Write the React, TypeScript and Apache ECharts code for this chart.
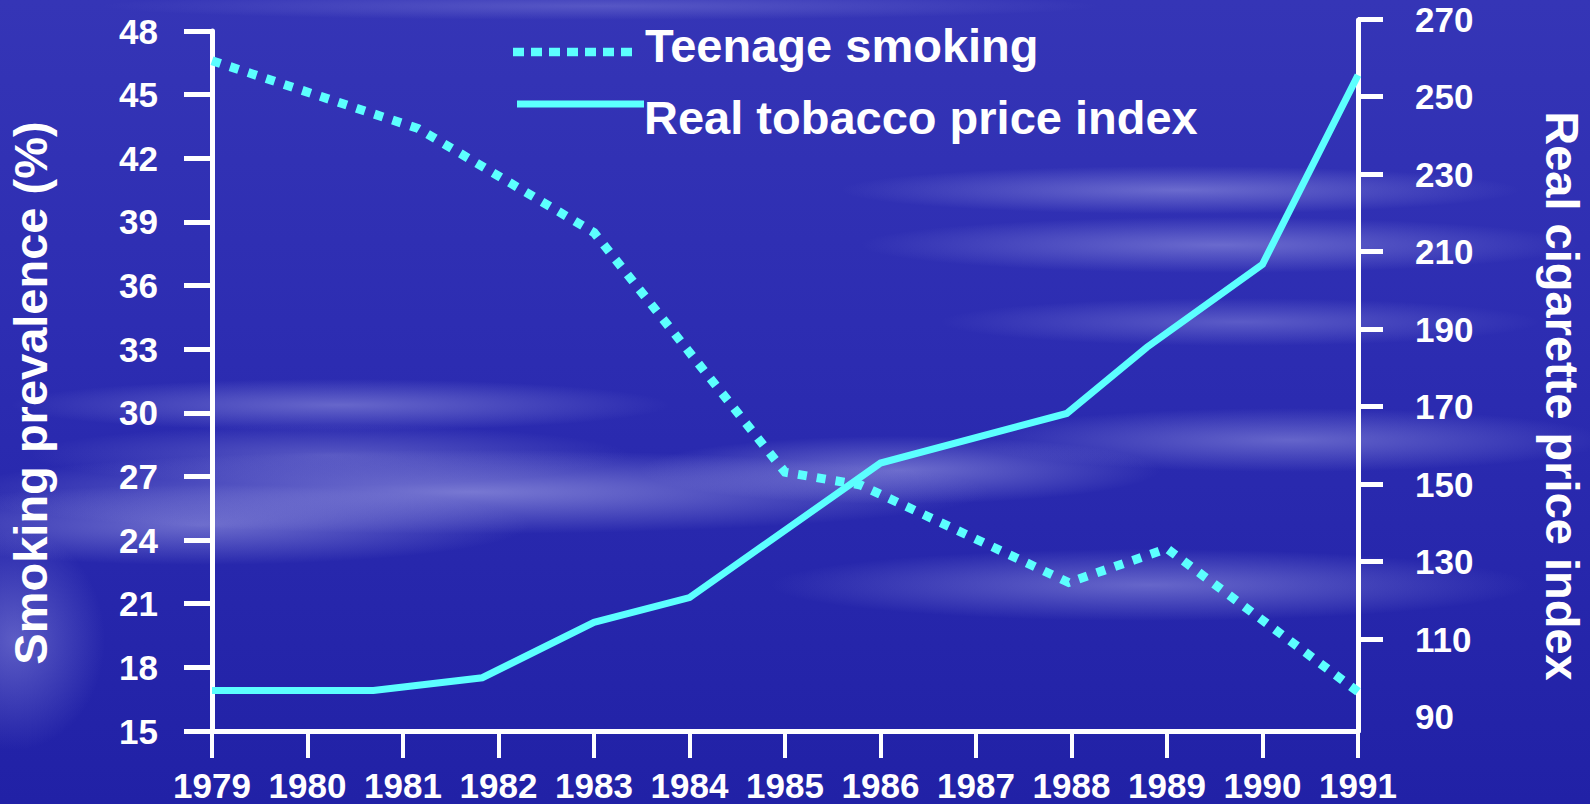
import React, { useEffect, useRef } from "react";
import * as echarts from "echarts";

// Teenage smoking prevalence (%), left axis
const teenYears = [1979, 1981.16, 1983, 1985, 1985.79, 1987.97, 1989, 1991];
const teenSmoking = [46.6, 43.4, 38.5, 27.2, 26.6, 22.0, 23.6, 16.85];

// Real cigarette price index, right axis
const priceYears = [1979, 1980.69, 1981.83, 1983, 1984, 1986, 1987.95, 1988.79, 1990, 1991];
const priceIndex = [96.7, 96.7, 100.0, 114.3, 120.7, 155.4, 168.2, 185.3, 206.7, 255.5];

// Axis ranges and tick values
const yearMin = 1979;
const yearMax = 1991;
const leftMin = 15;
const leftMax = 48;
const leftStep = 3;
const rightLabels = [90, 110, 130, 150, 170, 190, 210, 230, 250, 270];
const rightTicks = [110, 130, 150, 170, 190, 210, 230, 250, 270];

const seriesNames = ["Teenage smoking", "Real tobacco price index"];
const leftTitle = "Smoking prevalence (%)";
const rightTitle = "Real cigarette price index";

const CYAN = "#5CFFFF";
const WHITE = "#FFFFFF";
const FONT = '"Liberation Sans", Arial, Helvetica, sans-serif';

// Soft cloud streaks over a deep blue sky
const skyBackground = [
  "radial-gradient(ellipse 330px 26px at 340px 405px, rgba(175,175,235,0.45), rgba(175,175,235,0) 100%)",
  "radial-gradient(ellipse 520px 42px at 470px 492px, rgba(185,185,240,0.55), rgba(185,185,240,0) 100%)",
  "radial-gradient(ellipse 330px 40px at 200px 525px, rgba(175,175,235,0.5), rgba(175,175,235,0) 100%)",
  "radial-gradient(ellipse 300px 30px at 330px 455px, rgba(170,170,230,0.35), rgba(170,170,230,0) 100%)",
  "radial-gradient(ellipse 260px 34px at 900px 470px, rgba(175,175,235,0.5), rgba(175,175,235,0) 100%)",
  "radial-gradient(ellipse 340px 24px at 1180px 190px, rgba(165,165,232,0.5), rgba(165,165,232,0) 100%)",
  "radial-gradient(ellipse 360px 28px at 1220px 245px, rgba(165,165,232,0.5), rgba(165,165,232,0) 100%)",
  "radial-gradient(ellipse 300px 24px at 1240px 322px, rgba(155,155,228,0.42), rgba(155,155,228,0) 100%)",
  "radial-gradient(ellipse 320px 32px at 1290px 440px, rgba(165,165,232,0.48), rgba(165,165,232,0) 100%)",
  "radial-gradient(ellipse 380px 36px at 1150px 585px, rgba(165,165,232,0.5), rgba(165,165,232,0) 100%)",
  "radial-gradient(ellipse 90px 110px at 15px 640px, rgba(160,160,230,0.45), rgba(160,160,230,0) 100%)",
  "radial-gradient(ellipse 500px 14px at 600px 6px, rgba(150,150,225,0.35), rgba(150,150,225,0) 100%)",
  "linear-gradient(180deg, #3535b6 0%, #2d2db2 40%, #2626ab 75%, #2121a6 100%)",
].join(", ");

export default function App() {
  const ref = useRef<HTMLDivElement>(null);

  useEffect(() => {
    if (!ref.current) return;
    const chart = echarts.init(ref.current, undefined, { renderer: "svg" });

    const labelStyle = {
      color: WHITE,
      fontSize: 35,
      fontWeight: "bold" as const,
      fontFamily: FONT,
    };
    const titleFont = `bold 47px ${FONT}`;

    chart.setOption({
      animation: false,
      textStyle: { fontFamily: FONT },
      grid: [
        // main plot: years × smoking prevalence
        { left: 212, right: 232, top: 31, bottom: 73 },
        // price index scale, sharing the same horizontal extent
        { left: 212, right: 232, top: 19, bottom: 87.5 },
        // right-hand axis line running down to the year axis
        { left: 212, right: 232, top: 20, bottom: 73 },
      ],
      xAxis: [
        {
          gridIndex: 0,
          type: "value",
          min: yearMin,
          max: yearMax,
          interval: 1,
          axisLine: { show: true, onZero: false, lineStyle: { color: WHITE, width: 5 } },
          axisTick: { show: true, length: 27, lineStyle: { color: WHITE, width: 4 } },
          axisLabel: { ...labelStyle, margin: 37, formatter: (v: number) => String(v) },
          splitLine: { show: false },
        },
        { gridIndex: 1, type: "value", min: yearMin, max: yearMax, show: false },
        { gridIndex: 2, type: "value", min: yearMin, max: yearMax, show: false },
      ],
      yAxis: [
        {
          gridIndex: 0,
          type: "value",
          position: "left",
          min: leftMin,
          max: leftMax,
          interval: leftStep,
          axisLine: { show: true, onZero: false, lineStyle: { color: WHITE, width: 5 } },
          axisTick: { show: true, length: 28, lineStyle: { color: WHITE, width: 5 } },
          axisLabel: { ...labelStyle, margin: 54 },
          splitLine: { show: false },
        },
        {
          gridIndex: 1,
          type: "value",
          position: "right",
          min: rightLabels[0],
          max: rightLabels[rightLabels.length - 1],
          axisLine: { show: false },
          axisTick: {
            show: true,
            length: 25,
            customValues: rightTicks,
            lineStyle: { color: WHITE, width: 5 },
          },
          axisLabel: { ...labelStyle, margin: 57, customValues: rightLabels },
          splitLine: { show: false },
        },
        {
          gridIndex: 2,
          type: "value",
          position: "right",
          min: 0,
          max: 1,
          axisLine: { show: true, onZero: false, lineStyle: { color: WHITE, width: 5 } },
          axisTick: { show: false },
          axisLabel: { show: false },
          splitLine: { show: false },
        },
      ],
      series: [
        {
          name: seriesNames[0],
          type: "line",
          xAxisIndex: 0,
          yAxisIndex: 0,
          data: teenYears.map((y, i) => [y, teenSmoking[i]]),
          symbol: "none",
          clip: false,
          lineStyle: { color: CYAN, width: 9, type: [9, 10], cap: "butt", join: "miter" },
          z: 3,
        },
        {
          name: seriesNames[1],
          type: "line",
          xAxisIndex: 1,
          yAxisIndex: 1,
          data: priceYears.map((y, i) => [y, priceIndex[i]]),
          symbol: "none",
          clip: false,
          lineStyle: { color: CYAN, width: 7, join: "miter" },
          z: 2,
        },
      ],
      graphic: [
        {
          type: "text",
          x: 30,
          y: 393,
          rotation: Math.PI / 2,
          style: {
            text: leftTitle,
            fill: WHITE,
            font: titleFont,
            align: "center",
            verticalAlign: "middle",
            textAlign: "center",
            textVerticalAlign: "middle",
          },
        },
        {
          type: "text",
          x: 1562,
          y: 396,
          rotation: -Math.PI / 2,
          style: {
            text: rightTitle,
            fill: WHITE,
            font: titleFont,
            align: "center",
            verticalAlign: "middle",
            textAlign: "center",
            textVerticalAlign: "middle",
          },
        },
        {
          type: "line",
          shape: { x1: 513, y1: 52, x2: 632, y2: 52 },
          style: { stroke: CYAN, lineWidth: 8.5, lineDash: [11, 7], lineCap: "butt" },
        },
        {
          type: "line",
          shape: { x1: 517, y1: 104, x2: 644, y2: 104 },
          style: { stroke: CYAN, lineWidth: 7 },
        },
        {
          type: "text",
          x: 645,
          y: 45,
          style: {
            text: seriesNames[0],
            fill: WHITE,
            font: titleFont,
            align: "left",
            verticalAlign: "middle",
            textAlign: "left",
            textVerticalAlign: "middle",
          },
        },
        {
          type: "text",
          x: 644,
          y: 117,
          style: {
            text: seriesNames[1],
            fill: WHITE,
            font: titleFont,
            align: "left",
            verticalAlign: "middle",
            textAlign: "left",
            textVerticalAlign: "middle",
          },
        },
      ],
    });

    return () => chart.dispose();
  }, []);

  return (
    <div
      style={{
        position: "absolute",
        left: 0,
        top: 0,
        width: 1590,
        height: 804,
        overflow: "hidden",
        background: skyBackground,
      }}
    >
      <div ref={ref} style={{ width: 1590, height: 804 }} />
    </div>
  );
}
